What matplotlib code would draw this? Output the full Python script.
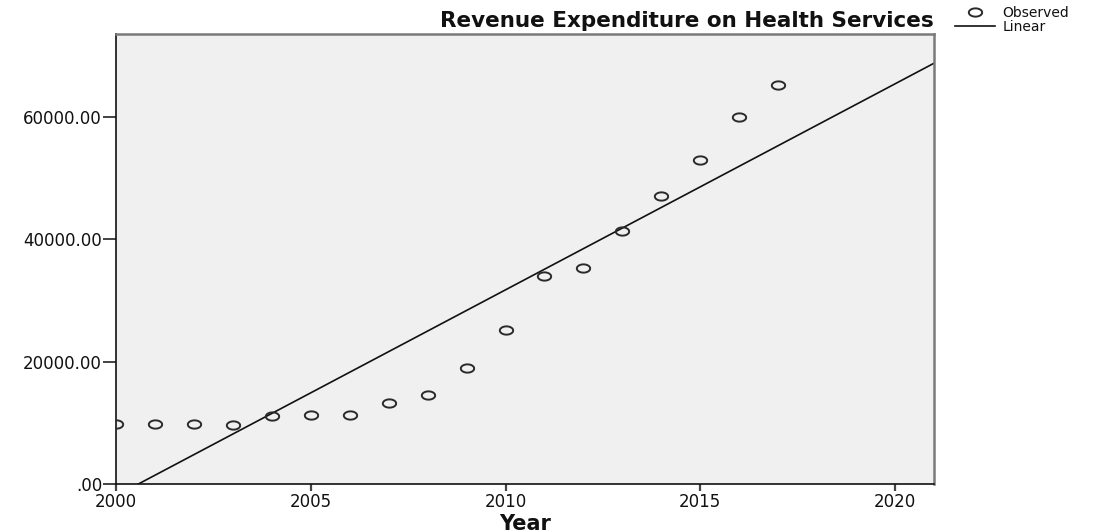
import numpy as np
import matplotlib
matplotlib.use("Agg")
import matplotlib.pyplot as plt
from matplotlib.ticker import FuncFormatter

years = [2000, 2001, 2002, 2003, 2004, 2005, 2006, 2007, 2008,
         2009, 2010, 2011, 2012, 2013, 2014, 2015, 2016, 2017]
observed = [9800, 9800, 9800, 9600, 11100, 11200, 11200, 13200, 14500,
            19000, 25200, 33900, 35300, 41300, 47100, 52900, 60000, 65100]
x_ticks = [2000, 2005, 2010, 2015, 2020]
y_ticks = [0, 20000, 40000, 60000]
title = "Revenue Expenditure on Health Services"
x_label = "Year"
legend_labels = ["Observed", "Linear"]

plt.rcParams['font.family'] = ['DejaVu Sans']

fig = plt.figure(figsize=(10.98, 5.32), dpi=100)
ax = fig.add_axes([116/1098, 1 - 484/532, (934 - 116)/1098, (484 - 34)/532])
ax.set_facecolor('#f0f0f0')

# elliptical open marker (as in the reference)
t = np.linspace(0, 2*np.pi, 60)
ell = np.column_stack([np.cos(t), 0.62*np.sin(t)])

obs_line, = ax.plot(years, observed, linestyle='none', marker=ell, markersize=9.6,
                    markerfacecolor='none', markeredgecolor='#2a2a2a',
                    markeredgewidth=1.4, zorder=3)

# linear fit
coef = np.polyfit(years, observed, 1)
xfit = np.array([2000, 2021])
lin_line, = ax.plot(xfit, np.polyval(coef, xfit), color='#111111', lw=1.2, zorder=2)

ax.set_xlim(2000, 2021)
ax.set_ylim(0, 73500)
ax.set_xticks(x_ticks)
ax.set_yticks(y_ticks)

def yfmt(v, pos):
    s = f"{v:.2f}"
    if s.startswith("0"):
        s = s[1:]
    return s
ax.yaxis.set_major_formatter(FuncFormatter(yfmt))

ax.tick_params(axis='x', direction='out', length=5, width=1.6, pad=1.5,
               labelsize=12, colors='#444444', labelcolor='#111111')
ax.tick_params(axis='y', direction='out', length=9.5, width=1.2, pad=0.5,
               labelsize=12, colors='#222222', labelcolor='#111111')

for s in ['left', 'bottom']:
    ax.spines[s].set_color('#111111')
    ax.spines[s].set_linewidth(1.2)
for s in ['top', 'right']:
    ax.spines[s].set_color('#7a7a7a')
    ax.spines[s].set_linewidth(1.8)

fig.text(934/1098, 1 - 27/532, title, ha='right', va='baseline',
         fontsize=15.5, fontweight='bold', color='#111111')
fig.text(525/1098, 1 - 530/532, x_label, ha='center', va='baseline',
         fontsize=15, fontweight='bold', color='#111111')

leg = fig.legend([obs_line, lin_line], legend_labels, loc='upper left',
                 bbox_to_anchor=(955/1098, 1 - 6/532), frameon=False,
                 fontsize=10, handlelength=2.9, handletextpad=0.5,
                 labelspacing=0.0, borderpad=0, borderaxespad=0)
for txt in leg.get_texts():
    txt.set_color('#111111')

fig.savefig("out.png", dpi=100)
